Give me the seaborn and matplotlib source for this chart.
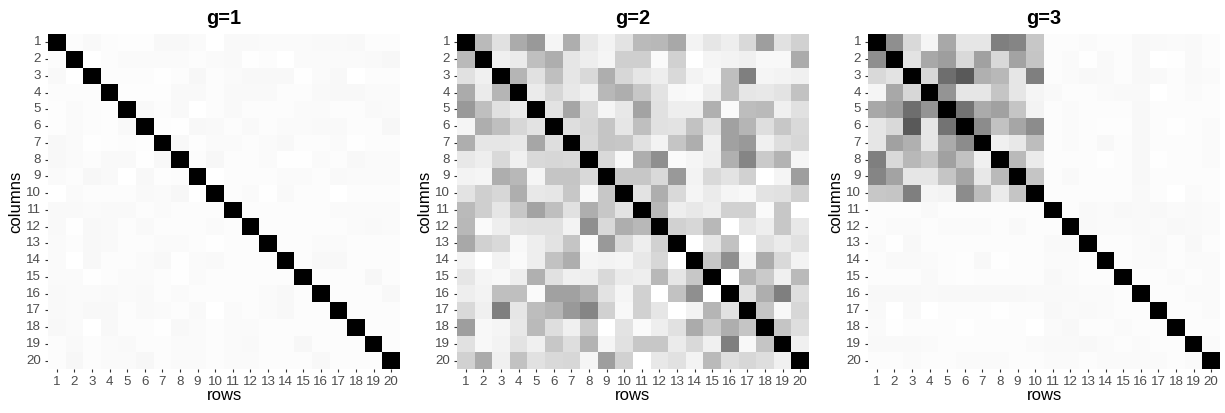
import numpy as np
import pandas as pd
import seaborn as sns
import matplotlib
matplotlib.use("Agg")
import matplotlib.pyplot as plt
from matplotlib.colors import LinearSegmentedColormap

# ---------------- data ----------------
labels = [str(i) for i in range(1, 21)]
panel_titles = ["g=1", "g=2", "g=3"]

# g=1 : upper triangle rows (row i lists columns i..20)
g1_upper = [
    [1, .015, .025, .015, .01, .01, .03, .03, .02, 0, .025, .025, .02, .02, .02, .025, .025, .03, .012, .015],
    [1, 0, .012, .02, .02, .02, .02, .015, .02, .025, .005, .015, 0, .02, .02, .02, .02, .025, .032],
    [1, .012, .012, .015, .005, .012, .032, .012, .02, .03, .03, .03, .005, .02, .03, 0, .015, .015],
    [1, .01, .01, .01, .025, .025, .015, .025, .025, .025, .015, .015, .025, .03, .03, .02, .02],
    [1, .025, .012, .025, 0, .012, .025, .015, .015, .015, .02, .02, .015, .015, .025, .02],
    [1, .01, .005, .03, .025, .015, .025, .015, .02, .02, .025, .025, .015, .015, .032],
    [1, .03, .01, .02, .02, .012, .02, .03, .012, .012, .02, .005, .015, .015],
    [1, .012, .032, .012, .012, .02, .005, .005, .02, .012, .03, .02, .02],
    [1, 0, .015, .015, .015, .02, .02, .015, .025, .02, .02, .02],
    [1, .012, .02, .005, .025, .015, .015, 0, .015, .015, .015],
    [1, .015, .015, .015, .015, .015, .02, .02, .02, .02],
    [1, .012, .015, .015, .012, .015, .02, .025, .02],
    [1, .012, .012, .02, .02, .015, .015, .015],
    [1, .012, .03, .03, .012, .012, .012],
    [1, .012, .012, .012, .035, .012],
    [1, .012, .015, .015, .03],
    [1, .012, .012, .012],
    [1, .012, .012],
    [1, .012],
    [1],
]

# g=2 : upper triangle rows
g2_upper = [
    [1, .27, .12, .33, .40, .04, .32, .09, .05, .11, .27, .28, .34, .05, .10, .07, .15, .38, .12, .18],
    [1, .06, .08, .25, .32, .10, .07, .04, .19, .19, .02, .18, 0, .04, .05, .06, .03, .03, .33],
    [1, .29, .12, .25, .10, .15, .32, .16, .10, .07, .15, .05, .03, .25, .50, .04, .05, .06],
    [1, .08, .16, .09, .06, .28, .32, .22, .11, .03, .02, .07, .25, .10, .09, .11, .24],
    [1, .11, .35, .15, .04, .09, .36, .12, .07, .07, .31, .02, .26, .27, .06, .12],
    [1, .13, .16, .23, .10, .25, .12, .11, .24, .12, .37, .29, .13, .22, .15],
    [1, .15, .23, .22, .12, .05, .23, .32, .06, .37, .40, .06, .13, .16],
    [1, .15, .03, .32, .44, .02, .04, .07, .31, .48, .21, .30, .04],
    [1, .22, .22, .15, .40, .05, .15, .11, .18, 0, .04, .38],
    [1, .11, .32, .15, .04, .08, .04, .03, .11, .12, .18],
    [1, .28, .07, .09, .07, .18, .18, .02, .22, 0],
    [1, .18, .16, .28, 0, .10, .07, .22, .09],
    [1, 0, .10, .24, 0, .12, .08, .12],
    [1, .22, .44, .05, .33, .15, .05],
    [1, 0, .29, .21, .06, .27],
    [1, .12, .32, .50, .13],
    [1, .23, .03, .16],
    [1, .23, .13],
    [1, .06],
    [1],
]

# g=3 : lower triangle rows (row i lists columns 1..i)
g3_lower = [
    [1],
    [.44, 1],
    [.15, .11, 1],
    [.04, .34, .16, 1],
    [.34, .38, .57, .42, 1],
    [.10, .15, .65, .10, .55, 1],
    [.10, .37, .31, .10, .33, .45, 1],
    [.50, .15, .28, .23, .37, .24, .06, 1],
    [.48, .36, .10, .10, .23, .35, .09, .27, 1],
    [.22, .23, .50, .04, .05, .45, .26, .08, .23, 1],
    [.015, .015, .015, .025, .015, .015, .015, .015, .015, .012, 1],
    [.015, .02, .02, .015, .02, .02, .02, .015, .025, .012, .012, 1],
    [.02, .005, .03, .015, .015, .015, .015, .015, .015, .015, .025, .025, 1],
    [.012, .025, .025, .02, .012, .01, .03, .005, .015, .015, .02, .02, .012, 1],
    [.015, .015, .015, .025, .015, .01, .015, .015, .015, .012, .03, .02, .015, .015, 1],
    [.03, .03, .03, .025, .03, .03, .03, .03, .03, .025, .025, .025, .02, .02, .015, 1],
    [.025, 0, .025, 0, .012, .012, .015, .005, .012, .015, .03, .02, .025, .02, .015, .015, 1],
    [.02, .005, .012, .015, .015, .005, .015, .015, .015, 0, .02, .03, .015, .012, .02, .015, .012, 1],
    [.025, .025, .025, .02, .015, .015, .015, .015, .015, .02, .025, .025, .03, .02, .015, .02, .015, .015, 1],
    [.015, .015, .02, .015, .015, .02, .02, .02, .015, .015, .02, .02, .015, .02, .02, .02, .02, .015, .02, 1],
]


def from_upper(rows):
    n = len(rows)
    m = np.zeros((n, n))
    for i, r in enumerate(rows):
        m[i, i:] = r
        m[i:, i] = r
    return m


def from_lower(rows):
    n = len(rows)
    m = np.zeros((n, n))
    for i, r in enumerate(rows):
        m[i, :i + 1] = r
        m[:i + 1, i] = r
    return m


mats = [from_upper(g1_upper), from_upper(g2_upper), from_lower(g3_lower)]

# ---------------- plot ----------------
sns.set_style("white")
plt.rcParams["font.family"] = ["Liberation Sans", "DejaVu Sans"]

W, H = 1225, 413
fig = plt.figure(figsize=(W / 100, H / 100), dpi=100)
cmap = LinearSegmentedColormap.from_list("wb", ["#FFFFFF", "#000000"])

panel_left = [48, 457, 868]
panel_w = 352
panel_top, panel_bot = 34, 369

for k in range(3):
    ax = fig.add_axes([panel_left[k] / W, (H - panel_bot) / H, panel_w / W, (panel_bot - panel_top) / H])
    df = pd.DataFrame(mats[k], index=labels, columns=labels)
    sns.heatmap(df, ax=ax, cmap=cmap, vmin=0, vmax=1, cbar=False,
                xticklabels=labels, yticklabels=labels, linewidths=0)
    ax.set_title(panel_titles[k], fontsize=14.4, fontweight="bold", pad=7, color="black")
    ax.set_xlabel("rows", fontsize=12, color="black", labelpad=0)
    ax.set_ylabel("columns", fontsize=12, color="black", labelpad=2)
    ax.tick_params(axis="both", which="both", length=2.5, width=0.8, color="#333333",
                   labelsize=9.6, labelcolor="#4D4D4D", pad=2.5, bottom=True, left=True)
    plt.setp(ax.get_xticklabels(), rotation=0)
    plt.setp(ax.get_yticklabels(), rotation=0)
    for s in ax.spines.values():
        s.set_visible(False)

fig.savefig("out.png", dpi=100, facecolor="white")
